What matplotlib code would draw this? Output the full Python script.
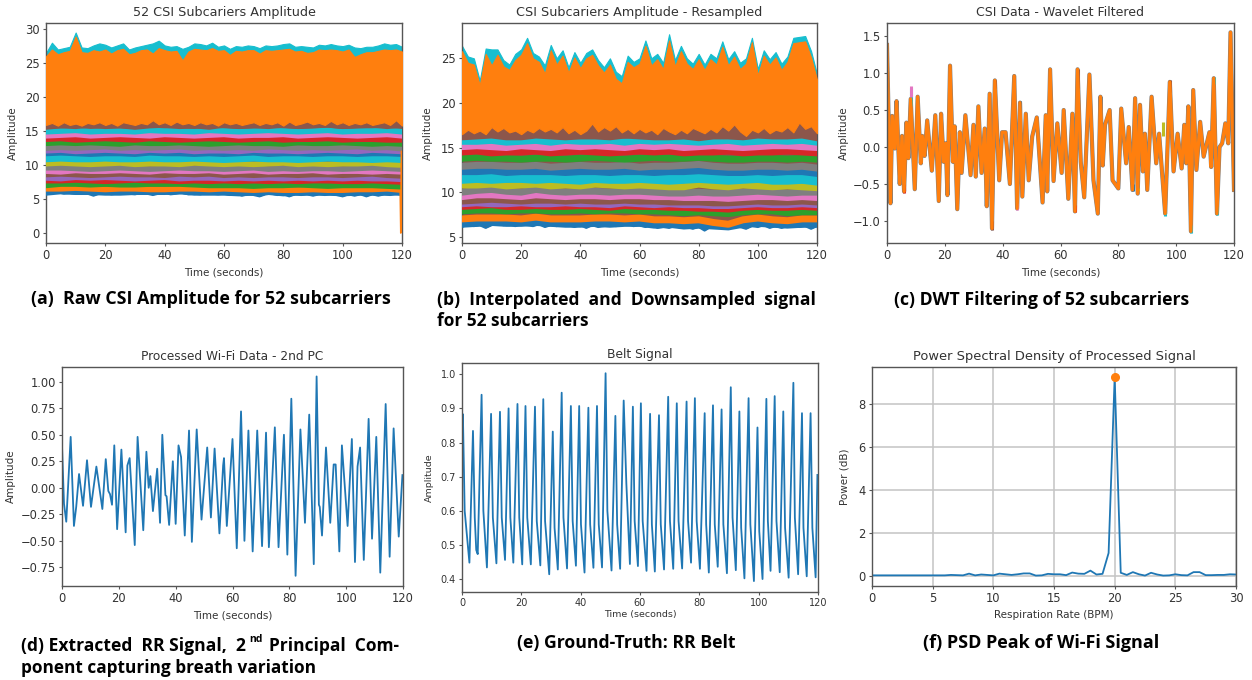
import numpy as np
import matplotlib
matplotlib.use("Agg")
import matplotlib.pyplot as plt

W, H = 1252, 680

# tab10 names used by the bands, bottom to top
BLUE, ORANGE, GREEN, RED, PURPLE, BROWN, PINK, GRAY, OLIVE, CYAN = (
    "#1f77b4", "#ff7f0e", "#2ca02c", "#d62728", "#9467bd",
    "#8c564b", "#e377c2", "#7f7f7f", "#bcbd22", "#17becf")

# (a) raw amplitude, edges every 2 s, bands every 5 s
a_cyan_top = [26.5, 28.0, 27.0, 27.2, 27.4, 29.5, 27.3, 27.2, 27.6, 27.9, 27.7, 27.3, 27.6, 27.9, 27.0, 27.3,
              27.5, 27.7, 27.9, 28.3, 27.6, 27.4, 27.5, 27.1, 27.4, 27.9, 27.8, 27.6, 28.0, 27.4, 27.6, 27.1,
              27.5, 27.4, 27.6, 27.5, 27.2, 27.6, 27.5, 27.6, 27.8, 27.9, 27.4, 27.5, 27.4, 27.3, 27.7, 27.6,
              27.8, 27.6, 27.5, 27.7, 27.3, 27.2, 27.4, 27.4, 27.6, 27.9, 27.7, 27.8, 27.4]
a_orange_top = [26.0, 27.0, 26.3, 26.6, 26.8, 28.9, 26.6, 26.5, 26.9, 26.7, 27.0, 26.4, 26.9, 27.1, 26.3, 26.5,
                26.9, 27.0, 26.4, 27.2, 26.9, 26.7, 26.8, 25.4, 26.7, 27.1, 27.0, 26.9, 27.2, 26.8, 26.9, 26.2,
                26.8, 26.7, 26.9, 26.9, 26.4, 26.9, 26.8, 26.9, 27.0, 27.1, 26.7, 26.8, 26.5, 26.6, 27.0, 26.9,
                27.0, 26.9, 26.7, 27.0, 25.9, 26.3, 26.6, 26.6, 26.8, 27.0, 26.9, 27.0, 26.7]
a_brown_edge = [15.9, 16.2, 15.8, 16.3, 15.9, 16.1, 15.8, 16.2, 16.0, 16.3, 15.9, 16.2, 15.8, 16.3, 16.1, 15.9,
                16.2, 16.0, 16.6, 16.0, 16.3, 15.9, 16.4, 16.0, 16.2, 15.9, 16.3, 16.0, 16.2, 15.8, 16.3, 16.0,
                16.2, 15.9, 16.1, 16.3, 15.9, 16.2, 16.0, 16.3, 15.8, 16.4, 15.9, 16.1, 16.4, 16.0, 16.2, 15.9,
                16.5, 16.0, 16.3, 15.9, 16.2, 16.0, 16.3, 15.9, 16.1, 16.3, 15.9, 16.6, 15.8]
a_blue_edge = [5.7, 5.9, 6.0, 5.8, 5.9, 5.8, 5.9, 5.8, 5.5, 5.8, 5.9, 5.7, 5.8, 5.9, 5.8, 5.7,
               5.9, 5.8, 5.6, 5.8, 5.9, 5.7, 5.8, 5.9, 5.7, 5.8, 5.7, 5.9, 5.8, 5.7, 5.8, 5.6,
               5.8, 5.5, 5.7, 5.6, 5.4, 5.7, 5.8, 5.6, 5.7, 5.4, 5.7, 5.6, 5.7, 5.5, 5.7, 5.6,
               5.7, 5.6, 5.4, 5.7, 5.5, 5.7, 5.4, 5.7, 5.5, 5.7, 5.6, 5.8, 5.6]
a_blue = [5.9, 6.1, 6.0, 6.0, 5.9, 5.9, 6.0, 6.0, 6.0, 6.1, 5.9, 5.9, 5.9,
          5.8, 5.9, 6.0, 5.8, 5.9, 5.9, 5.9, 5.8, 5.9, 5.9, 5.9, 5.9]
a_orange = [6.5, 6.5, 6.6, 6.5, 6.4, 6.5, 6.5, 6.4, 6.4, 6.5, 6.5, 6.4, 6.5,
            6.4, 6.3, 6.4, 6.3, 6.3, 6.4, 6.3, 6.3, 6.4, 6.4, 6.5, 6.3]
a_green = [7.0, 7.2, 7.2, 7.1, 7.2, 7.1, 7.1, 7.2, 7.2, 7.2, 7.1, 7.0, 7.0,
           7.0, 6.9, 7.0, 7.0, 7.1, 7.0, 6.9, 7.0, 7.0, 7.0, 6.9, 6.8]
a_red = [7.7, 7.7, 7.8, 7.7, 7.6, 7.7, 7.8, 7.7, 7.7, 7.6, 7.7, 7.6, 7.7,
         7.6, 7.7, 7.6, 7.7, 7.6, 7.7, 7.7, 7.6, 7.6, 7.7, 7.6, 7.5]
a_purple = [8.1, 8.0, 8.2, 8.1, 8.2, 8.1, 8.0, 8.1, 8.2, 8.0, 8.1, 8.1, 8.0,
            8.1, 8.0, 8.1, 8.0, 8.1, 8.0, 8.1, 8.0, 8.1, 8.0, 8.0, 7.9]
a_brown = [8.6, 8.7, 8.6, 8.5, 8.6, 8.7, 8.6, 8.6, 8.5, 8.7, 8.6, 8.7, 8.5,
           8.6, 8.5, 8.6, 8.6, 8.5, 8.6, 8.6, 8.5, 8.6, 8.7, 8.5, 8.4]
a_pink = [9.1, 9.0, 9.2, 9.1, 9.1, 9.2, 9.1, 9.0, 9.2, 9.1, 9.1, 9.2, 9.0,
          9.1, 9.2, 9.0, 9.1, 9.1, 9.2, 9.0, 9.1, 9.1, 9.0, 9.1, 9.0]
a_gray = [9.6, 9.6, 9.5, 9.4, 9.5, 9.6, 9.5, 9.4, 9.5, 9.6, 9.5, 9.5, 9.4,
          9.5, 9.6, 9.4, 9.5, 9.4, 9.5, 9.5, 9.4, 9.5, 9.6, 9.5, 9.4]
a_olive = [10.2, 10.3, 10.2, 10.1, 10.2, 10.3, 10.1, 10.2, 10.2, 10.1, 10.3, 10.2, 10.1,
           10.2, 10.1, 10.2, 10.3, 10.1, 10.2, 10.1, 10.2, 10.2, 10.3, 10.1, 10.0]
a_cyan = [11.0, 11.1, 11.0, 11.0, 11.1, 11.0, 11.0, 11.1, 11.0, 11.0, 11.1, 11.0, 10.9,
          11.0, 11.1, 11.0, 11.0, 10.9, 11.0, 11.1, 11.0, 11.0, 10.9, 11.0, 10.9]
a_blue2 = [11.7, 11.8, 11.7, 11.6, 11.7, 11.7, 11.6, 11.8, 11.7, 11.7, 11.6, 11.7, 11.6,
           11.7, 11.8, 11.6, 11.7, 11.7, 11.6, 11.7, 11.7, 11.6, 11.7, 11.7, 11.6]
a_purple2 = [12.1, 12.2, 12.0, 12.1, 12.2, 12.1, 12.0, 12.2, 12.1, 12.2, 12.0, 12.1, 12.1,
             12.0, 12.2, 12.1, 12.1, 12.0, 12.1, 12.2, 12.1, 12.0, 12.2, 12.1, 12.0]
a_gray2 = [12.5, 12.6, 12.5, 12.6, 12.7, 12.5, 12.6, 12.5, 12.6, 12.7, 12.5, 12.6, 12.5,
           12.6, 12.5, 12.7, 12.6, 12.5, 12.6, 12.5, 12.6, 12.7, 12.5, 12.6, 12.4]
a_green2 = [13.2, 13.3, 13.2, 13.3, 13.2, 13.1, 13.3, 13.2, 13.2, 13.3, 13.2, 13.1, 13.2,
            13.3, 13.2, 13.2, 13.1, 13.3, 13.2, 13.2, 13.3, 13.2, 13.1, 13.2, 13.1]
a_red2 = [13.8, 13.9, 13.7, 13.8, 13.9, 13.8, 13.7, 13.9, 13.8, 13.7, 13.8, 13.9, 13.8,
          13.7, 13.8, 13.9, 13.7, 13.8, 13.8, 13.9, 13.7, 13.8, 13.8, 13.7, 13.7]
a_pink2 = [14.3, 14.4, 14.5, 14.3, 14.4, 14.5, 14.4, 14.3, 14.5, 14.4, 14.3, 14.4, 14.5,
           14.3, 14.4, 14.4, 14.5, 14.3, 14.4, 14.5, 14.4, 14.3, 14.4, 14.5, 14.3]
a_cyan2 = [14.9, 15.0, 15.1, 14.9, 15.0, 15.0, 14.9, 15.1, 15.0, 15.0, 14.9, 15.1, 15.0,
           14.9, 15.0, 15.1, 15.0, 14.9, 15.0, 15.1, 14.9, 15.0, 15.0, 15.1, 14.9]
a_brown2 = [15.6, 15.8, 15.7, 15.9, 15.7, 15.8, 15.6, 15.8, 15.9, 15.7, 15.8, 15.6, 15.9,
            15.7, 15.8, 15.7, 15.9, 15.7, 15.8, 15.9, 15.7, 15.8, 15.9, 15.7, 15.9]
a_drop_t = [119.4, 119.6, 119.8]
a_drop_y = [6.0, 0.0, 12.0]

# (b) resampled amplitude, edges every 2 s, bands every 5 s
b_cyan_top = [26.4, 25.2, 25.0, 22.5, 26.1, 26.0, 26.0, 24.8, 24.3, 25.5, 26.0, 27.3, 25.6, 25.2, 24.2, 26.5,
              25.0, 25.9, 24.0, 25.7, 24.5, 25.6, 26.0, 24.8, 24.0, 25.0, 23.5, 23.0, 25.3, 24.6, 25.0, 27.0,
              25.0, 25.5, 24.5, 27.7, 24.8, 26.4, 25.0, 24.4, 25.5, 24.3, 25.5, 25.0, 26.9, 24.9, 25.8, 24.5,
              25.0, 27.3, 23.8, 25.9, 24.9, 25.7, 24.4, 25.2, 27.3, 27.4, 27.5, 25.8, 23.2]
b_orange_top = [25.8, 24.5, 24.3, 22.0, 25.5, 24.2, 25.4, 24.1, 23.7, 24.8, 25.4, 26.7, 25.0, 24.6, 23.3, 25.9,
                24.3, 25.3, 23.4, 25.1, 23.9, 25.0, 25.4, 24.2, 23.4, 24.3, 22.7, 22.2, 24.6, 24.0, 24.4, 26.4,
                24.2, 24.9, 23.8, 27.0, 24.1, 25.8, 24.4, 23.8, 24.9, 23.7, 24.9, 24.3, 26.3, 24.2, 25.2, 23.8,
                24.4, 26.8, 23.1, 25.3, 24.3, 25.1, 23.7, 24.6, 26.7, 26.8, 26.9, 25.1, 22.6]
b_brown_edge = [16.5, 17.0, 16.6, 16.9, 16.5, 17.3, 16.8, 17.2, 16.7, 16.9, 16.5, 17.0, 16.7, 17.2, 16.8, 17.1,
                16.7, 17.3, 16.6, 17.0, 16.5, 16.9, 17.7, 16.8, 17.3, 16.9, 17.4, 16.7, 17.1, 16.6, 17.1, 16.7,
                17.0, 16.5, 17.2, 16.8, 16.5, 17.0, 16.6, 17.2, 16.9, 16.6, 17.1, 16.7, 17.4, 16.9, 17.6, 16.8,
                16.3, 17.0, 16.7, 17.2, 16.6, 17.0, 16.8, 17.3, 16.7, 17.8, 17.1, 17.4, 16.6]
b_blue_edge = [6.1, 6.4, 6.2, 6.3, 6.0, 6.3, 6.5, 6.3, 6.4, 6.2, 6.4, 6.3, 6.2, 6.4, 6.1, 6.3,
               6.2, 6.4, 6.3, 6.1, 6.3, 6.0, 6.3, 6.1, 6.2, 6.4, 6.2, 6.3, 6.4, 6.2, 6.3, 6.1,
               6.3, 6.0, 6.1, 6.0, 6.2, 6.0, 6.1, 5.9, 6.1, 5.7, 6.1, 6.0, 6.2, 6.1, 6.3, 6.1,
               5.9, 6.2, 6.1, 6.3, 6.0, 6.2, 6.0, 6.2, 6.3, 6.1, 6.2, 5.9, 6.2]
b_blue = [6.4, 6.5, 6.6, 6.5, 6.5, 6.6, 6.5, 6.4, 6.4, 6.5, 6.4, 6.5, 6.5,
          6.3, 6.4, 6.2, 6.3, 6.2, 6.1, 6.4, 6.5, 6.4, 6.3, 6.4, 6.4]
b_orange = [7.0, 7.1, 7.1, 7.1, 7.0, 7.2, 7.0, 7.0, 7.0, 7.1, 7.1, 7.0, 7.1,
            6.9, 6.9, 6.8, 6.9, 6.6, 6.4, 6.9, 7.1, 6.9, 6.8, 7.0, 7.0]
b_green = [7.9, 8.0, 8.0, 7.9, 8.0, 8.0, 7.9, 7.9, 8.0, 7.9, 8.0, 8.0, 7.9,
           7.9, 7.8, 7.7, 7.8, 7.7, 7.6, 7.8, 7.9, 7.9, 7.7, 7.8, 7.8]
b_red = [8.4, 8.5, 8.6, 8.4, 8.4, 8.5, 8.4, 8.4, 8.5, 8.4, 8.3, 8.5, 8.4,
         8.4, 8.3, 8.3, 8.2, 8.2, 8.1, 8.3, 8.4, 8.3, 8.3, 8.4, 8.3]
b_purple = [8.7, 8.8, 8.7, 8.7, 8.8, 8.7, 8.7, 8.8, 8.7, 8.7, 8.6, 8.8, 8.7,
            8.6, 8.7, 8.6, 8.6, 8.5, 8.5, 8.6, 8.7, 8.6, 8.6, 8.7, 8.6]
b_brown = [9.0, 9.1, 9.2, 9.1, 9.0, 9.1, 9.1, 9.0, 9.1, 9.0, 9.0, 9.1, 9.0,
           9.0, 8.9, 8.9, 8.9, 8.8, 8.8, 8.9, 9.0, 8.9, 8.9, 9.0, 8.9]
b_pink = [9.5, 9.7, 9.7, 9.6, 9.5, 9.7, 9.6, 9.5, 9.6, 9.6, 9.5, 9.6, 9.6,
          9.5, 9.5, 9.4, 9.4, 9.4, 9.3, 9.4, 9.5, 9.5, 9.4, 9.5, 9.4]
b_gray = [10.0, 10.2, 10.3, 10.1, 10.0, 10.3, 10.1, 10.0, 10.1, 10.1, 10.0, 10.1, 10.1,
          10.0, 9.9, 9.9, 10.0, 9.9, 9.9, 10.0, 10.1, 10.0, 9.9, 10.0, 10.0]
b_olive = [10.8, 10.8, 10.9, 10.7, 10.8, 10.9, 10.7, 10.8, 10.7, 10.9, 10.8, 10.7, 10.8,
           10.7, 10.6, 10.6, 10.9, 10.7, 10.6, 10.8, 10.7, 10.6, 10.7, 10.6, 10.5]
b_cyan = [11.5, 11.6, 11.5, 11.6, 11.6, 11.5, 11.6, 11.5, 11.4, 11.6, 11.5, 11.5, 11.6,
          11.5, 11.4, 11.5, 11.6, 11.5, 11.4, 11.5, 11.6, 11.4, 11.4, 11.5, 11.3]
b_blue2 = [12.3, 12.3, 12.4, 12.2, 12.3, 12.3, 12.3, 12.2, 12.3, 12.3, 12.2, 12.3, 12.3,
           12.2, 12.3, 12.3, 12.4, 12.3, 12.2, 12.2, 12.3, 12.2, 12.3, 12.3, 12.1]
b_gray2 = [12.9, 13.0, 13.0, 12.9, 12.9, 13.0, 12.8, 12.9, 13.0, 12.9, 12.9, 13.0, 12.8,
           12.9, 12.9, 13.0, 13.1, 12.9, 12.8, 12.8, 12.9, 12.9, 12.8, 12.9, 12.7]
b_green2 = [13.8, 13.9, 13.8, 13.8, 13.7, 13.8, 13.8, 13.7, 13.8, 13.9, 13.8, 13.7, 13.8,
            13.9, 13.8, 13.8, 13.9, 13.8, 13.7, 13.7, 13.8, 13.8, 13.7, 13.8, 13.7]
b_red2 = [14.5, 14.6, 14.4, 14.5, 14.5, 14.6, 14.4, 14.5, 14.6, 14.5, 14.4, 14.5, 14.6,
          14.5, 14.6, 14.4, 14.5, 14.5, 14.6, 14.4, 14.5, 14.5, 14.6, 14.5, 14.4]
b_pink2 = [15.1, 15.2, 15.1, 15.0, 15.2, 15.1, 15.0, 15.2, 15.1, 15.2, 15.1, 15.0, 15.2,
           15.1, 15.2, 15.0, 15.1, 15.2, 15.1, 15.0, 15.1, 15.2, 15.2, 15.1, 15.0]
b_cyan2 = [15.7, 15.7, 15.8, 15.6, 15.7, 15.8, 15.6, 15.8, 15.7, 15.7, 15.8, 15.6, 15.8,
           15.7, 15.8, 15.7, 15.6, 15.7, 15.8, 15.6, 15.7, 15.8, 15.7, 15.8, 15.6]
b_brown2 = [16.2, 16.3, 16.4, 16.2, 16.2, 16.4, 16.3, 16.2, 16.3, 16.3, 16.2, 16.4, 16.3,
            16.2, 16.2, 16.3, 16.1, 16.3, 16.3, 16.2, 16.4, 16.3, 16.3, 16.4, 16.1]

# (c) wavelet filtered, turning points of the top trace
c_t = [0, 1.2, 1.8, 2.7, 3.3, 4.4, 5.2, 5.9, 6.7, 7.4, 8.2, 9.6, 10.6, 11.7, 12.2, 13, 13.9, 15.5, 16.7, 17.9,
       18.7, 19.6, 20.3, 20.9, 21.8, 22.8, 23.4, 24.3, 25.2, 25.8, 27.1, 28.9, 29.9, 30.7, 31.6, 32.7, 33.8,
       34.5, 35.5, 36.3, 37.3, 38.8, 39.8, 41, 42.5, 44, 45, 46, 46.8, 48, 49, 50.2, 51.8, 53.8, 54.9, 55.4,
       56.4, 57.6, 58.9, 60.4, 61.1, 62.7, 64.1, 65, 65.9, 67, 68.2, 70, 71.4, 72.9, 73.8, 74.6, 75.4, 77, 78,
       80, 81, 82.7, 83.6, 84.9, 85.8, 86.7, 87.5, 88.5, 89.2, 90, 91.5, 93.1, 94.1, 96.2, 97.8, 99.1, 100.5,
       101.9, 102.8, 103.5, 104.2, 105.1, 105.9, 107, 108.3, 109.5, 111.5, 112.1, 113, 114.1, 115, 115.9, 117,
       118, 118.8, 120]
c_y = [1.38, -0.76, 0.42, -0.02, 0.62, -0.5, 0.15, -0.6, 0.33, -0.15, 0.65, -0.57, 0.68, -0.22, 0.15, -0.12, 0.36,
       -0.32, 0.43, -0.73, 0.45, -0.2, 0.05, -0.65, 1.1, -0.2, 0.28, -0.84, 0.2, -0.35, 0.43, -0.38, 0.3, -0.4,
       0.55, -0.35, 0.25, -0.8, 0.72, -1.1, 0.9, -0.45, 0.2, 0.2, -0.5, 0.96, -0.83, 0.6, -0.67, 0.45, -0.45, 0.14,
       0.4, -0.75, 0.43, -0.6, 1.05, -0.46, 0.32, -0.35, 0.5, -0.7, 0.45, -0.87, 1.05, -0.2, -0.68, 0.98, -0.45,
       -0.9, 0.68, -0.25, 0.3, 0.5, -0.45, -0.56, 0.52, -0.22, 0.27, -0.58, 0.66, -0.63, 0.57, -0.33, 0.18, -0.58,
       0.68, -0.22, 0.18, -0.9, 0.88, -0.33, 0.18, -0.29, 0.3, -0.22, 0.55, -1.14, 0.77, -0.31, 0.34, -0.13, 0.2,
       -0.27, 0.93, -0.9, 0.0, 0.05, 0.32, 0.05, 1.55, -0.58]
# other subcarriers poking out past the top trace
c_tip_t = [8.2, 8.2, 36.3, 45, 96.2, 105.1, 114.1, 113, 65.9, 65, 97.8, 46, 44, 5.9, 31.6, 84.9, 86.7, 95.5, 37.3]
c_tip_base = [0.55, 0.68, -1.0, -0.75, -0.8, -1.05, -0.8, 0.85, 0.8, -0.78, 0.75, 0.5, 0.85, -0.5, 0.45, -0.5, -0.55, 0.15, 0.8]
c_tip_y = [0.8, 0.82, -1.12, -0.85, -0.93, -1.16, -0.92, 0.94, 1.05, -0.88, 0.9, 0.62, 0.96, -0.62, 0.57, -0.6, -0.6, 0.34, 0.9]
c_tip_col = [CYAN, PINK, BROWN, PINK, CYAN, CYAN, CYAN, CYAN, BROWN, RED, BROWN, BLUE, BROWN, RED, OLIVE, BLUE, OLIVE, OLIVE, BROWN]

# (d) 2nd principal component
wifi_t = [0, 0.7, 1.5, 3.05, 4.2, 5, 6, 7.4, 8.8, 10.2, 12.1, 14.2, 15.4, 16.3, 16.9, 17.6, 18.4, 19.4, 20.9, 22.4,
          23, 23.8, 25.6, 26.6, 28.6, 29.7, 30.5, 31.1, 32, 33.5, 34.5, 35.3, 36.4, 36.8, 37.7, 39, 40, 41, 41.9,
          43.2, 44.7, 45.7, 47.4, 49.1, 51.1, 52.4, 53.7, 55.4, 56.7, 57, 58, 60, 61.5, 63, 64.2, 65.6, 67.1, 68.7,
          70.4, 71.8, 72.8, 74.9, 76.2, 78.1, 79.3, 80.7, 82.2, 83.9, 85.5, 87, 88.6, 89.6, 90.4, 90.7, 91.5, 92.9,
          94.4, 95.6, 96.3, 97.6, 98.5, 100.5, 102, 103.1, 104, 104.9, 106.2, 107.9, 109.1, 110.6, 112, 113.9,
          115.3, 116.7, 118.5, 119.8]
wifi_y = [0.40, -0.15, -0.32, 0.48, -0.36, -0.18, 0.13, -0.17, 0.26, -0.18, 0.20, -0.20, 0.27, -0.03, -0.06, -0.16,
          0.40, -0.39, 0.36, -0.42, 0.21, 0.28, -0.54, 0.48, -0.40, 0.34, 0.00, 0.11, -0.22, 0.18, -0.33, 0.50,
          -0.07, -0.08, -0.35, 0.25, -0.34, 0.40, 0.29, -0.45, 0.54, -0.51, 0.55, -0.30, 0.38, -0.28, 0.37, -0.43,
          0.21, 0.28, -0.36, 0.46, -0.57, 0.72, -0.50, 0.54, -0.60, 0.54, -0.55, 0.52, -0.56, 0.57, -0.56, 0.50,
          -0.63, 0.84, -0.83, 0.55, -0.33, 0.69, -0.72, 1.05, -0.16, -0.18, -0.45, 0.38, -0.33, 0.22, 0.22, -0.60,
          0.40, -0.36, 0.46, -0.70, 0.20, 0.38, -0.68, 0.65, -0.48, 0.48, -0.80, 0.79, -0.65, 0.56, -0.46, 0.12]

# (e) belt signal: peak, knee after it, trough for each breath
belt_t = [0, 0.3, 0.9, 2.5, 3.7, 4.3, 4.8, 5.3, 6.6, 7.2, 8.4, 9.8, 10.4, 11.6, 12.8, 13.4, 14.5, 15.7, 16.3, 17.3,
          18.7, 19.3, 20.3, 21.4, 22, 23.2, 24.6, 25.2, 26.4, 27.4, 28, 29.4, 30.6, 31.2, 32.3, 33.6, 34.2, 35.4,
          36.7, 37.3, 38.4, 39.5, 40.1, 41.3, 42.6, 43.2, 44.3, 45.5, 46.1, 47.2, 48.4, 49, 50.4, 51.7, 52.3, 53.3,
          54.5, 55.4, 56.6, 57.6, 58.2, 59.3, 60.3, 60.9, 62.2, 63.4, 64, 65, 66.4, 67, 68.1, 69.5, 70.1, 71.2,
          72.4, 73, 74.2, 75.7, 76.2, 77.2, 78.5, 79.1, 80.2, 81.8, 82.3, 83.2, 84.6, 85.2, 86.2, 87.5, 88.1, 89.3,
          90.6, 91.2, 92.3, 93.5, 94.1, 95.2, 96.6, 97.2, 98.4, 99.6, 100.2, 101.3, 102.6, 103.1, 104, 105.4, 106,
          107.1, 108.3, 108.9, 110.1, 111.7, 112.2, 113.3, 114.6, 115.1, 116.2, 117.5, 118.1, 119.2, 119.8]
belt_y = [0.75, 0.883, 0.60, 0.448, 0.834, 0.58, 0.485, 0.473, 0.94, 0.60, 0.434, 0.884, 0.58, 0.446, 0.89, 0.58,
          0.456, 0.90, 0.58, 0.448, 0.913, 0.58, 0.443, 0.907, 0.58, 0.443, 0.905, 0.57, 0.44, 0.927, 0.57, 0.414,
          0.832, 0.55, 0.428, 0.946, 0.58, 0.431, 0.907, 0.57, 0.439, 0.907, 0.56, 0.419, 0.902, 0.56, 0.433, 0.907,
          0.56, 0.434, 1.003, 0.60, 0.425, 0.878, 0.56, 0.43, 0.923, 0.68, 0.444, 0.905, 0.57, 0.438, 0.915, 0.57,
          0.424, 0.884, 0.56, 0.422, 0.88, 0.56, 0.428, 0.934, 0.57, 0.43, 0.915, 0.57, 0.431, 0.92, 0.57, 0.448,
          0.93, 0.57, 0.43, 0.886, 0.56, 0.419, 0.909, 0.56, 0.436, 0.897, 0.56, 0.417, 0.962, 0.58, 0.426, 0.891,
          0.55, 0.402, 0.93, 0.56, 0.394, 0.844, 0.54, 0.40, 0.928, 0.57, 0.424, 0.936, 0.57, 0.42, 0.891, 0.55,
          0.404, 0.975, 0.58, 0.414, 0.886, 0.55, 0.408, 0.886, 0.55, 0.405, 0.705]

# (f) PSD, one value every 0.5 BPM
psd_bpm = np.arange(61) * 0.5
psd_power = [0.03, 0.03, 0.03, 0.03, 0.03, 0.03, 0.03, 0.03, 0.03, 0.03, 0.03, 0.03, 0.03, 0.05, 0.04, 0.03, 0.11,
             0.03, 0.07, 0.05, 0.03, 0.11, 0.08, 0.05, 0.08, 0.12, 0.12, 0.02, 0.03, 0.10, 0.08, 0.08, 0.04, 0.16,
             0.11, 0.10, 0.25, 0.07, 0.10, 1.07, 9.25, 0.15, 0.05, 0.18, 0.08, 0.02, 0.15, 0.07, 0.02, 0.03, 0.08,
             0.04, 0.03, 0.18, 0.18, 0.04, 0.04, 0.05, 0.05, 0.08, 0.07]
peak_bpm = [20]
peak_power = [9.25]

a_bands = [(a_blue, BLUE), (a_orange, ORANGE), (a_green, GREEN), (a_red, RED), (a_purple, PURPLE), (a_brown, BROWN),
           (a_pink, PINK), (a_gray, GRAY), (a_olive, OLIVE), (a_cyan, CYAN), (a_blue2, BLUE), (a_purple2, PURPLE),
           (a_gray2, GRAY), (a_green2, GREEN), (a_red2, RED), (a_pink2, PINK), (a_cyan2, CYAN), (a_brown2, BROWN)]
b_bands = [(b_blue, BLUE), (b_orange, ORANGE), (b_green, GREEN), (b_red, RED), (b_purple, PURPLE), (b_brown, BROWN),
           (b_pink, PINK), (b_gray, GRAY), (b_olive, OLIVE), (b_cyan, CYAN), (b_blue2, BLUE), (b_gray2, GRAY),
           (b_green2, GREEN), (b_red2, RED), (b_pink2, PINK), (b_cyan2, CYAN), (b_brown2, BROWN)]
edge_t = np.arange(61) * 2.0
band_t = np.arange(25) * 5.0

TEXT = "#333333"
fig = plt.figure(figsize=(W / 100, H / 100), dpi=100)


def panel(box, title, xlabel, ylabel, xlim, ylim, title_size=8.8, title_pad=5, xpad=3.5, ypad=3,
          label_size=7.5, tick_size=8.3):
    l, t, r, b = box
    ax = fig.add_axes([l / W, 1 - b / H, (r - l) / W, (b - t) / H])
    ax.set_title(title, fontsize=title_size, color=TEXT, pad=title_pad)
    ax.set_xlabel(xlabel, fontsize=label_size, color=TEXT, labelpad=xpad)
    ax.set_ylabel(ylabel, fontsize=label_size, color=TEXT, labelpad=ypad)
    ax.set_xlim(xlim)
    ax.set_ylim(ylim)
    ax.tick_params(labelsize=tick_size, labelcolor=TEXT, color="#555555", length=2.5, width=0.8, pad=2)
    for s in ax.spines.values():
        s.set_color("#555555")
        s.set_linewidth(1)
    return ax


def draw_bands(ax, bands, cyan_top, orange_top, brown_edge, blue_edge, lw):
    # backing so no white shows between the bands
    ax.fill_between(edge_t, blue_edge, brown_edge, color=BROWN, lw=0, zorder=1.5)
    ax.plot(edge_t, blue_edge, color=BLUE, lw=1.6, zorder=2)
    for vals, col in bands:
        ax.plot(band_t, vals, color=col, lw=lw * (1.45 if vals is a_cyan or vals is b_cyan else 1), zorder=3)
    ax.fill_between(edge_t, orange_top, cyan_top, color=CYAN, lw=0.8, zorder=2)
    ax.plot(edge_t, brown_edge, color=BROWN, lw=2.2, zorder=3.5)
    ax.fill_between(edge_t, brown_edge, orange_top, color=ORANGE, lw=0.8, zorder=3.6)


# top row
ax = panel((46, 23, 402, 243), "52 CSI Subcariers Amplitude", "Time (seconds)", "Amplitude", (0, 120), (-1.47, 30.9),
           title_size=9.15, ypad=5)
draw_bands(ax, a_bands, a_cyan_top, a_orange_top, a_brown_edge, a_blue_edge, 4.0)
ax.plot(a_drop_t, a_drop_y, color=ORANGE, lw=1.2, zorder=4)
ax.set_yticks([0, 5, 10, 15, 20, 25, 30])

ax = panel((462, 23, 817, 243), "CSI Subcariers Amplitude - Resampled", "Time (seconds)", "Amplitude", (0, 120), (4.3, 28.96),
           title_size=9.2, ypad=5.5)
draw_bands(ax, b_bands, b_cyan_top, b_orange_top, b_brown_edge, b_blue_edge, 5.0)
ax.set_yticks([5, 10, 15, 20, 25])

ax = panel((887, 23, 1234, 243), "CSI Data - Wavelet Filtered", "Time (seconds)", "Amplitude", (0, 120), (-1.297, 1.676),
           title_size=9.0)
ax.plot(c_t, c_y, color=GRAY, lw=3.0)
ax.vlines(c_tip_t, c_tip_base, c_tip_y, colors=c_tip_col, lw=2.2)
ax.plot(c_t, c_y, color=ORANGE, lw=2.3)
ax.set_yticks([-1.0, -0.5, 0.0, 0.5, 1.0, 1.5])

# bottom row
ax = panel((62, 367, 403, 586), "Processed Wi-Fi Data - 2nd PC", "Time (seconds)", "Amplitude", (0, 120), (-0.926, 1.139),
           title_size=8.75)
ax.plot(wifi_t, wifi_y, color=BLUE, lw=1.3)
ax.set_yticks([-0.75, -0.5, -0.25, 0, 0.25, 0.5, 0.75, 1.0])

ax = panel((462, 363, 818, 592), "Belt Signal", "Time (seconds)", "Amplitude", (0, 120), (0.362, 1.033),
           title_pad=3.5, xpad=1.5, ypad=5, label_size=6.8, tick_size=7)
ax.plot(belt_t, belt_y, color=BLUE, lw=1.3)
ax.set_yticks([0.4, 0.5, 0.6, 0.7, 0.8, 0.9, 1.0])

ax = panel((872, 367, 1236, 586), "Power Spectral Density of Processed Signal", "Respiration Rate (BPM)", "Power (dB)",
           (0, 30), (-0.465, 9.72), title_size=9.4, ypad=6.5)
ax.grid(color="#c4c4c4", lw=1.1)
ax.set_axisbelow(True)
ax.plot(psd_bpm, psd_power, color=BLUE, lw=1.3)
ax.plot(peak_bpm, peak_power, "o", color=ORANGE, ms=5.5)
ax.set_yticks([0, 2, 4, 6, 8])

# captions sit below the panels, as in the paper
caption_font = dict(family="Open Sans", fontweight="bold", fontsize=12.75, color="black", va="center", ha="left")


def caption(x, y, s, **kw):
    fig.text(x / W, 1 - y / H, s, **{**caption_font, **kw})


caption(31, 299, "(a)  Raw CSI Amplitude for 52 subcarriers")
caption(437, 300, "(b)  Interpolated  and  Downsampled  signal", fontsize=12.65)
caption(437, 321, "for 52 subcarriers", fontsize=12.4)
caption(894, 300, "(c) DWT Filtering of 52 subcarriers", fontsize=12.7)
caption(21, 646, "(d) Extracted  RR Signal,  2", fontsize=12.6)
caption(249, 640, "nd", fontsize=7.5)
caption(269, 646, "Principal  Com-", fontsize=12.5)
caption(21, 668, "ponent capturing breath variation", fontsize=12.4)
caption(517, 643, "(e) Ground-Truth: RR Belt", fontsize=12.7)
caption(923, 643, "(f) PSD Peak of Wi-Fi Signal", fontsize=13)

fig.savefig("out.png", dpi=100)
